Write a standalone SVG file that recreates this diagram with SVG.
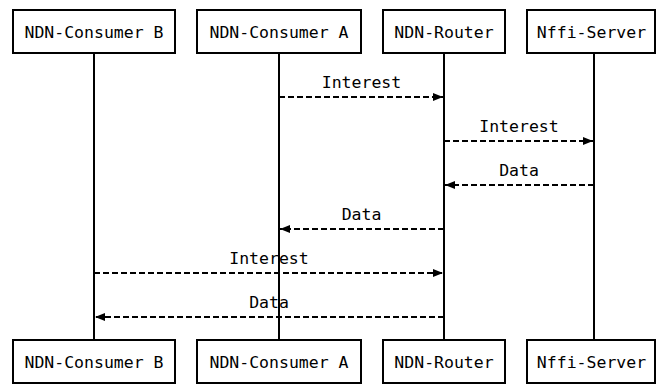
<svg xmlns="http://www.w3.org/2000/svg" width="663" height="385" viewBox="0 0 663 385">
<defs>
<style>
.box{fill:#fff;stroke:#000;stroke-width:2}
.life{stroke:#000;stroke-width:2;fill:none}
.msg{stroke:#000;stroke-width:2;fill:none;stroke-dasharray:6,3}
text{font-family:"DejaVu Sans Mono","Liberation Mono",monospace;font-size:16.5px;fill:#000;text-anchor:middle}
</style>
<marker id="ah" markerWidth="10" markerHeight="10" viewBox="0 0 10 10" refX="10" refY="5" orient="auto" markerUnits="userSpaceOnUse">
<path d="M0,1 L10,5 L0,9 Z" fill="#000"/>
</marker>
</defs>
<g id="lifelines">
<line class="life" x1="94" y1="53" x2="94" y2="340"/>
<line class="life" x1="279" y1="53" x2="279" y2="340"/>
<line class="life" x1="444" y1="53" x2="444" y2="340"/>
<line class="life" x1="594" y1="53" x2="594" y2="340"/>
</g>
<g id="consumerB">
<rect class="box" x="13" y="10" width="162" height="43"/>
<text x="94" y="38">NDN-Consumer B</text>
<rect class="box" x="13" y="340" width="162" height="43"/>
<text x="94" y="368">NDN-Consumer B</text>
</g>
<g id="consumerA">
<rect class="box" x="197" y="10" width="164" height="43"/>
<text x="279" y="38">NDN-Consumer A</text>
<rect class="box" x="197" y="340" width="164" height="43"/>
<text x="279" y="368">NDN-Consumer A</text>
</g>
<g id="router">
<rect class="box" x="383" y="10" width="122" height="43"/>
<text x="444" y="38">NDN-Router</text>
<rect class="box" x="383" y="340" width="122" height="43"/>
<text x="444" y="368">NDN-Router</text>
</g>
<g id="server">
<rect class="box" x="527" y="10" width="128" height="43"/>
<text x="591.5" y="38">Nffi-Server</text>
<rect class="box" x="527" y="340" width="128" height="43"/>
<text x="591.5" y="368">Nffi-Server</text>
</g>
<g id="connectors">
<line class="msg" x1="279" y1="97" x2="443" y2="97" marker-end="url(#ah)"/>
<text x="361.5" y="88">Interest</text>
<line class="msg" x1="444" y1="141" x2="593" y2="141" marker-end="url(#ah)"/>
<text x="519" y="132">Interest</text>
<line class="msg" x1="594" y1="185" x2="445" y2="185" marker-end="url(#ah)"/>
<text x="519" y="176">Data</text>
<line class="msg" x1="444" y1="229" x2="280" y2="229" marker-end="url(#ah)"/>
<text x="361.5" y="220">Data</text>
<line class="msg" x1="94" y1="273" x2="443" y2="273" marker-end="url(#ah)"/>
<text x="269" y="264">Interest</text>
<line class="msg" x1="444" y1="317" x2="95" y2="317" marker-end="url(#ah)"/>
<text x="269" y="308">Data</text>
</g>
</svg>
